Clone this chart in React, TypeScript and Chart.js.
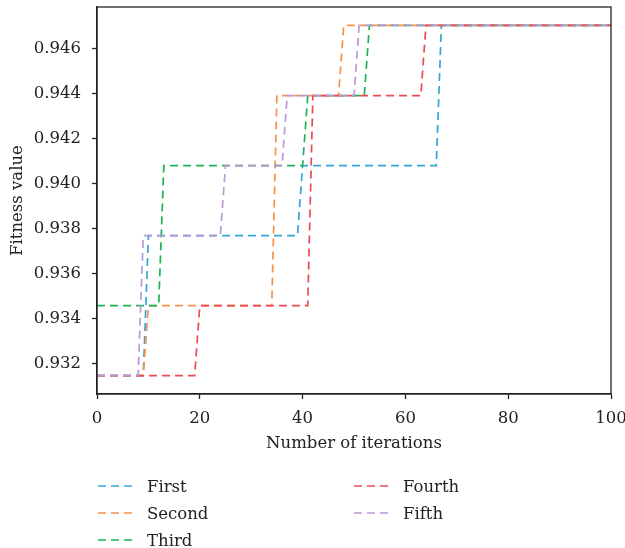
import React, { useEffect, useRef } from "react";
import { Chart, registerables } from "chart.js";

Chart.register(...registerables);

const SERIES_NAMES = ["First", "Second", "Third", "Fourth", "Fifth"];
const SERIES_COLORS = ["#33a6d8", "#f7924a", "#1cb451", "#ec4b52", "#bb98d8"];

// Corner points of each step curve (iteration, fitness value)
const FIRST_X = [0, 9, 10, 39, 40, 66, 67, 100];
const FIRST_Y = [0.93148, 0.93148, 0.9377, 0.9377, 0.94081, 0.94081, 0.94704, 0.94704];
const SECOND_X = [0, 9, 10, 34, 35, 47, 48, 100];
const SECOND_Y = [0.93148, 0.93148, 0.93459, 0.93459, 0.94392, 0.94392, 0.94704, 0.94704];
const THIRD_X = [0, 12, 13, 40, 41, 52, 53, 100];
const THIRD_Y = [0.93459, 0.93459, 0.94081, 0.94081, 0.94392, 0.94392, 0.94704, 0.94704];
const FOURTH_X = [0, 19, 20, 41, 42, 63, 64, 100];
const FOURTH_Y = [0.93148, 0.93148, 0.93459, 0.93459, 0.94392, 0.94392, 0.94704, 0.94704];
const FIFTH_X = [0, 8, 9, 24, 25, 36, 37, 50, 51, 100];
const FIFTH_Y = [0.93148, 0.93148, 0.9377, 0.9377, 0.94081, 0.94081, 0.94392, 0.94392, 0.94704, 0.94704];

const X_TICKS = [0, 20, 40, 60, 80, 100];
const Y_TICKS = [0.932, 0.934, 0.936, 0.938, 0.94, 0.942, 0.944, 0.946];

const X_TITLE = "Number of iterations";
const Y_TITLE = "Fitness value";

const FONT_FAMILY = "'DejaVu Serif', 'Liberation Serif', serif";
const FONT_SIZE = 16.5;

const ALL_X = [FIRST_X, SECOND_X, THIRD_X, FOURTH_X, FIFTH_X];
const ALL_Y = [FIRST_Y, SECOND_Y, THIRD_Y, FOURTH_Y, FIFTH_Y];

const boxPlugin = {
  id: "boxBorder",
  afterDatasetsDraw(chart: any) {
    const { ctx, chartArea } = chart;
    ctx.save();
    ctx.strokeStyle = "#222";
    ctx.lineWidth = 1.3;
    ctx.strokeRect(chartArea.left, chartArea.top, chartArea.right - chartArea.left, chartArea.bottom - chartArea.top);
    ctx.restore();
  },
};

function LegendItem({ name, color, x, y }: { name: string; color: string; x: number; y: number }) {
  return (
    <div style={{ position: "absolute", left: x, top: y - 12, height: 24, display: "flex", alignItems: "center" }}>
      <svg width={36} height={4} style={{ display: "block" }}>
        <line x1={0} y1={2} x2={36} y2={2} stroke={color} strokeWidth={1.7} strokeDasharray="8 5" />
      </svg>
      <span style={{ marginLeft: 13, fontFamily: FONT_FAMILY, fontSize: FONT_SIZE, color: "#222", whiteSpace: "nowrap" }}>{name}</span>
    </div>
  );
}

export default function App() {
  const canvasRef = useRef<HTMLCanvasElement>(null);

  useEffect(() => {
    const canvas = canvasRef.current;
    if (!canvas) return;
    const datasets = SERIES_NAMES.map((name, i) => ({
      label: name,
      data: ALL_X[i].map((x, j) => ({ x, y: ALL_Y[i][j] })),
      borderColor: SERIES_COLORS[i],
      backgroundColor: SERIES_COLORS[i],
      borderWidth: 1.7,
      borderDash: [8, 5],
      pointRadius: 0,
      fill: false,
      tension: 0,
      order: 5 - i,
    }));
    const chart = new Chart(canvas, {
      type: "line",
      data: { datasets },
      plugins: [boxPlugin],
      options: {
        animation: false,
        responsive: false,
        maintainAspectRatio: false,
        layout: { padding: { left: 0, right: 14, top: 7, bottom: 94 } },
        plugins: { legend: { display: false }, tooltip: { enabled: false } },
        scales: {
          x: {
            type: "linear",
            min: 0,
            max: 100,
            afterFit: (s: any) => { s.height = 60; s.paddingLeft = 0; s.paddingRight = 0; },
            afterBuildTicks: (s: any) => { s.ticks = X_TICKS.map((v) => ({ value: v })); },
            grid: { drawOnChartArea: false, color: "#222", tickLength: 5, tickWidth: 1.3 },
            border: { color: "#222", width: 1.3 },
            ticks: { color: "#222", padding: 10, maxRotation: 0, font: { family: FONT_FAMILY, size: FONT_SIZE }, callback: (v: any) => String(v) },
            title: { display: true, text: X_TITLE, color: "#222", padding: { top: 0, bottom: 0 }, font: { family: FONT_FAMILY, size: FONT_SIZE } },
          },
          y: {
            type: "linear",
            min: 0.930665,
            max: 0.94786,
            afterFit: (s: any) => { s.width = 97; s.paddingTop = 0; s.paddingBottom = 0; },
            afterBuildTicks: (s: any) => { s.ticks = Y_TICKS.map((v) => ({ value: v })); },
            grid: { drawOnChartArea: false, color: "#222", tickLength: 5, tickWidth: 1.3 },
            border: { color: "#222", width: 1.3 },
            ticks: { color: "#222", padding: 11, font: { family: FONT_FAMILY, size: FONT_SIZE }, callback: (v: any) => Number(v).toFixed(3) },
            title: { display: true, text: Y_TITLE, color: "#222", padding: { top: 7.5, bottom: 0 }, font: { family: FONT_FAMILY, size: FONT_SIZE } },
          },
        },
      },
    } as any);
    return () => chart.destroy();
  }, []);

  return (
    <div style={{ position: "fixed", left: 0, top: 0, width: 625, height: 548, background: "#fff" }}>
      <canvas ref={canvasRef} width={625} height={548} style={{ display: "block", width: 625, height: 548 }} />
      <LegendItem name={SERIES_NAMES[0]} color={SERIES_COLORS[0]} x={98} y={486} />
      <LegendItem name={SERIES_NAMES[1]} color={SERIES_COLORS[1]} x={98} y={513} />
      <LegendItem name={SERIES_NAMES[2]} color={SERIES_COLORS[2]} x={98} y={540} />
      <LegendItem name={SERIES_NAMES[3]} color={SERIES_COLORS[3]} x={354} y={486} />
      <LegendItem name={SERIES_NAMES[4]} color={SERIES_COLORS[4]} x={354} y={513} />
    </div>
  );
}
